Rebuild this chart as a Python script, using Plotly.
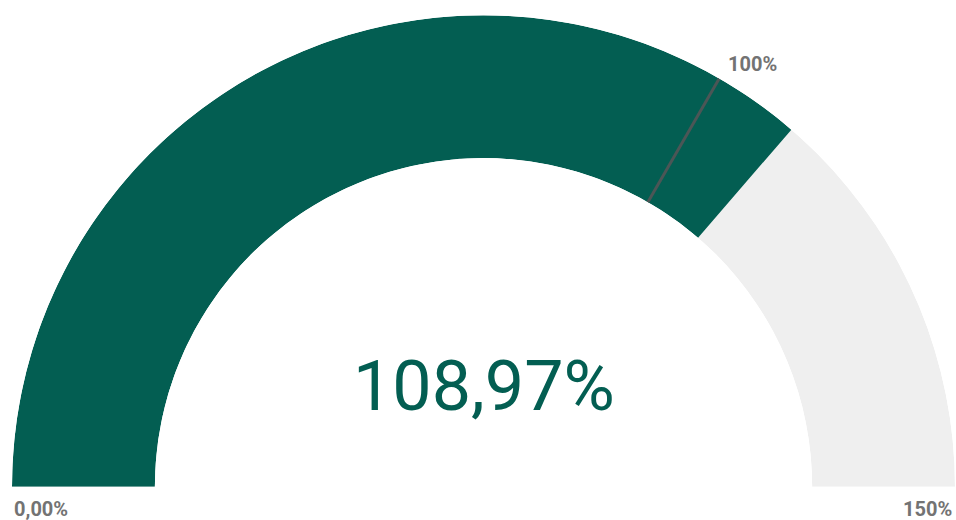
import plotly.graph_objects as go

# ---- data ----
gauge_min = 0
gauge_max = 150
value = 108.97
target = 100
value_label = "108,97%"
min_label = "0,00%"
max_label = "150%"
target_label = "100%"

TEAL = "#035E52"
GREY_BG = "#EFEFEF"
LABEL_GREY = "#737373"

def to_deg(v):
    return (v - gauge_min) / (gauge_max - gauge_min) * 180.0

fig = go.Figure()

# background arc
fig.add_trace(go.Barpolar(
    r=[1], theta=[to_deg(gauge_max) / 2], width=[to_deg(gauge_max)],
    marker=dict(color=GREY_BG, line=dict(width=0)),
    hoverinfo="skip", showlegend=False,
))
# value arc
fig.add_trace(go.Barpolar(
    r=[1], theta=[to_deg(value) / 2], width=[to_deg(value)],
    marker=dict(color=TEAL, line=dict(width=0)),
    hoverinfo="skip", showlegend=False,
))
# target line
fig.add_trace(go.Scatterpolar(
    r=[0, 1], theta=[to_deg(target)] * 2, mode="lines",
    line=dict(color="#4B5656", width=3),
    hoverinfo="skip", showlegend=False,
))

L, R, T, B = 12, 1, 15, 33
W, H = 956, 520
pw, ph = W - L - R, H - T - B

def px(x):
    return (x - L) / pw

def py(y):
    return (H - B - y) / ph

LABEL_FONT = dict(family="Roboto, Liberation Sans, sans-serif", size=20, color=LABEL_GREY)

fig.update_layout(
    width=W, height=H,
    margin=dict(l=L, r=R, t=T, b=B),
    paper_bgcolor="white",
    plot_bgcolor="white",
    polar=dict(
        sector=[0, 180],
        hole=0.697,
        bgcolor="white",
        domain=dict(x=[0, 1], y=[0, 1]),
        radialaxis=dict(visible=False, range=[0, 1]),
        angularaxis=dict(visible=False, rotation=180, direction="clockwise"),
        barmode="overlay",
    ),
    annotations=[
        dict(text=value_label, xref="paper", yref="paper", x=px(484), y=py(386),
             showarrow=False, xanchor="center", yanchor="middle",
             font=dict(family="Roboto, sans-serif", size=70, color=TEAL)),
        dict(text="<b>%s</b>" % min_label, xref="paper", yref="paper", x=px(12), y=py(509),
             showarrow=False, xanchor="left", yanchor="middle", font=LABEL_FONT),
        dict(text="<b>%s</b>" % max_label, xref="paper", yref="paper", x=px(954), y=py(509),
             showarrow=False, xanchor="right", yanchor="middle", font=LABEL_FONT),
        dict(text="<b>%s</b>" % target_label, xref="paper", yref="paper", x=px(752), y=py(64),
             showarrow=False, xanchor="center", yanchor="middle", font=LABEL_FONT),
    ],
)

fig.write_html("out.html")
